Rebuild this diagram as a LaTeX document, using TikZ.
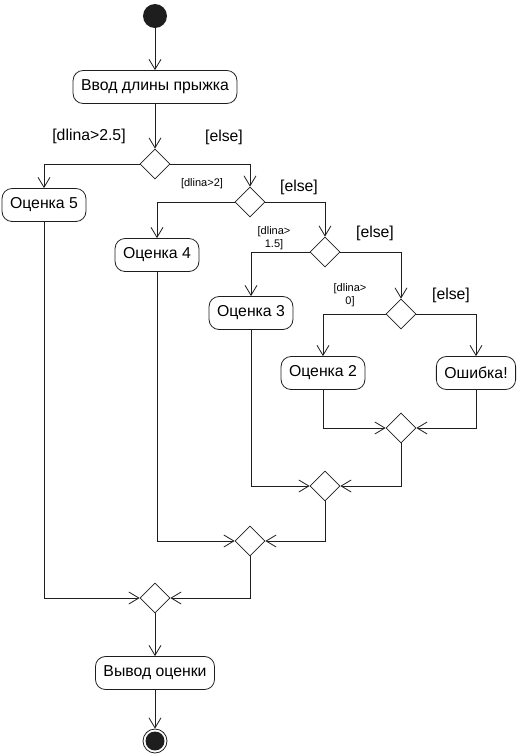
\documentclass[tikz,border=0pt]{standalone}
\usepackage{fontspec}
\setmainfont{Liberation Sans}
\usetikzlibrary{arrows.meta,positioning,shapes.geometric}
\definecolor{Ink}{HTML}{1E1E1E}
\tikzset{
  activity/.style={
    rounded corners=10pt, draw=Ink, line width=0.8pt,
    minimum height=33pt, inner xsep=8pt, font=\fontsize{15.8}{18}\selectfont
  },
  branch/.style={
    diamond, draw=Ink, line width=0.8pt,
    minimum width=30pt, minimum height=30pt, inner sep=0pt
  },
  guard/.style={font=\fontsize{15.8}{18}\selectfont, inner sep=0pt},
  smallguard/.style={font=\fontsize{11}{13}\selectfont, inner sep=0pt, align=center},
  flow/.style={-{Straight Barb[length=10pt,width=12pt]}, line width=0.8pt, draw=Ink}
}

\begin{document}
\begin{tikzpicture}[x=1pt,y=-1pt]
        \useasboundingbox (0,0) rectangle (519,756);
        % start and input
        \node[circle,fill=Ink,minimum size=24pt,inner sep=0pt] (start) at (155,16) {};
        \node[activity] (input) at (155,87) {Ввод длины прыжка};
        % decisions and grades
        \node[branch] (d1) at (155,164) {};
        \node[activity] (o5) at (44,205) {Оценка 5};
        \node[branch] (d2) at (250,202) {};
        \node[activity] (o4) at (157,255) {Оценка 4};
        \node[branch] (d3) at (325,252) {};
        \node[activity] (o3) at (251,313) {Оценка 3};
        \node[branch] (d4) at (401,314) {};
        \node[activity] (o2) at (323,373) {Оценка 2};
        \node[activity] (err) at (476,373) {Ошибка!};
        % merges
        \node[branch] (m1) at (401,428) {};
        \node[branch] (m2) at (325,486) {};
        \node[branch] (m3) at (250,541) {};
        \node[branch] (m4) at (155,598) {};
        \node[activity] (output) at (155,673) {Вывод оценки};
        \node[circle,draw=Ink,line width=0.8pt,minimum size=24pt,inner sep=0pt] (stop) at (155,741) {};
        \node[circle,fill=Ink,minimum size=19pt,inner sep=0pt] (stopdot) at (stop) {};
        % guards
        \node[guard] (g1) at (89,136) {[dlina>2.5]};
        \node[guard] (g2) at (224,137) {[else]};
        \node[smallguard] (g3) at (202,184) {[dlina>2]};
        \node[guard] (g4) at (299,187) {[else]};
        \node[smallguard] (g5) at (274,238) {[dlina>\\1.5]};
        \node[guard] (g6) at (375,233) {[else]};
        \node[smallguard] (g7) at (350,295) {[dlina>\\0]};
        \node[guard] (g8) at (451,295) {[else]};
        % flows
        \draw[flow] (start) -- (input);
        \draw[flow] (input) -- (d1);
        \draw[flow] (d1.west) -| (o5.north);
        \draw[flow] (d1.east) -| (d2.north);
        \draw[flow] (d2.west) -| (o4.north);
        \draw[flow] (d2.east) -| (d3.north);
        \draw[flow] (d3.west) -| (o3.north);
        \draw[flow] (d3.east) -| (d4.north);
        \draw[flow] (d4.west) -| (o2.north);
        \draw[flow] (d4.east) -| (err.north);
        \draw[flow] (o2.south) |- (m1.west);
        \draw[flow] (err.south) |- (m1.east);
        \draw[flow] (o3.south) |- (m2.west);
        \draw[flow] (m1.south) |- (m2.east);
        \draw[flow] (o4.south) |- (m3.west);
        \draw[flow] (m2.south) |- (m3.east);
        \draw[flow] (o5.south) |- (m4.west);
        \draw[flow] (m3.south) |- (m4.east);
        \draw[flow] (m4) -- (output);
        \draw[flow] (output) -- (stop);
      \end{tikzpicture}
\end{document}
